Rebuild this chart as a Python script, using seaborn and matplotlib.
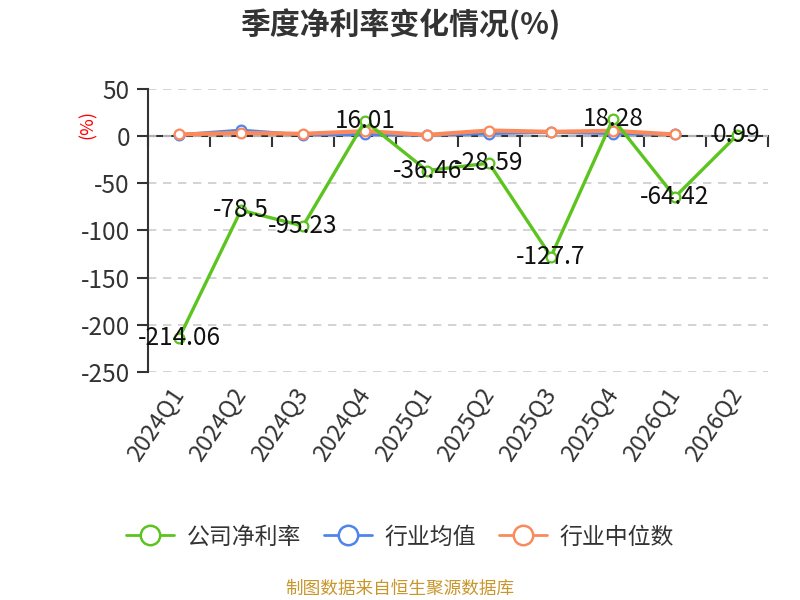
import numpy as np
import pandas as pd
import matplotlib
matplotlib.use("Agg")
import matplotlib.pyplot as plt
from matplotlib.lines import Line2D
import seaborn as sns

# ---- data ----
quarters = ["2024Q1", "2024Q2", "2024Q3", "2024Q4", "2025Q1",
            "2025Q2", "2025Q3", "2025Q4", "2026Q1", "2026Q2"]
company = [-214.06, -78.5, -95.23, 16.01, -36.46, -28.59, -127.7, 18.28, -64.42, 0.99]
industry_avg = [1.5, 6.4, 1.5, 1.8, 1.0, 2.8, 4.0, 2.8, 1.8, np.nan]
industry_median = [1.8, 3.5, 2.5, 5.3, 1.4, 6.0, 4.6, 5.7, 1.8, np.nan]
series_names = ["公司净利率", "行业均值", "行业中位数"]
colors = ["#5cc41e", "#4f84ec", "#fa8a5c"]
yticks = [50, 0, -50, -100, -150, -200, -250]

sns.set_theme(style="white")
plt.rcParams["font.family"] = ["Noto Sans CJK SC", "DejaVu Sans"]
plt.rcParams["axes.unicode_minus"] = False

fig = plt.figure(figsize=(8, 6), dpi=100)
ax = fig.add_axes([148 / 800, 1 - 372 / 600, 620 / 800, 283 / 600])

x = np.arange(len(quarters))
df = pd.DataFrame({"x": x, "company": company, "avg": industry_avg, "median": industry_median})

# draw order: avg, median, company on top
for col, color, lw, z in [("avg", colors[1], 2.2, 3), ("median", colors[2], 3.0, 4), ("company", colors[0], 2.4, 5)]:
    sub = df[["x", col]].dropna()
    sns.lineplot(data=sub, x="x", y=col, ax=ax, color=color, lw=lw, marker="o",
                 markersize=7, markerfacecolor="white", markeredgecolor=color,
                 markeredgewidth=1.6, zorder=z, legend=False)

for xi, v in zip(x, company):
    ax.text(xi, v, f"{v:g}", ha="center", va="center", fontsize=17.5,
            color="#111111", zorder=10)

ax.set_xlim(-0.5, len(quarters) - 0.5)
ax.set_ylim(-250, 50)
ax.set_yticks(yticks)
ax.set_yticklabels([str(t) for t in yticks])
ax.set_xticks(x)
ax.set_xticklabels(quarters, rotation=56, ha="right", va="center", rotation_mode="anchor")
ax.tick_params(axis="x", length=0, pad=13, labelsize=17, labelcolor="#333333")
ax.tick_params(axis="y", length=8, width=1.5, color="#333333", pad=5,
               labelsize=17.5, labelcolor="#333333", left=True)
ax.set_xlabel("")
ax.set_ylabel("")

for s in ["top", "right", "bottom"]:
    ax.spines[s].set_visible(False)
ax.spines["left"].set_color("#333333")
ax.spines["left"].set_linewidth(1.5)

ax.yaxis.grid(True, linestyle=(0, (5, 4)), color="#cccccc", lw=1.2)
ax.xaxis.grid(False)
ax.set_axisbelow(True)

# zero axis line with boundary ticks
sec = ax.secondary_xaxis(250 / 300)
sec.set_alignment("bottom")
sec.set_xticks(np.arange(-0.5, len(quarters), 1))
sec.set_xticklabels([])
sec.tick_params(axis="x", direction="out", length=8, width=1.5, color="#333333")
sec.spines["bottom"].set_color("#333333")
sec.spines["bottom"].set_linewidth(1.5)

ax.text(-0.097, 0.873, "(%)", transform=ax.transAxes, rotation=90, color="red",
        fontsize=13, ha="center", va="center")

fig.text(0.5, 1 - 24 / 600, "季度净利率变化情况(%)", ha="center", va="center",
         fontsize=21.5, fontweight="bold", color="#333333")

handles = [Line2D([], [], color=c, lw=2, marker="o", markersize=14,
                  markerfacecolor="white", markeredgecolor=c, markeredgewidth=1.8)
           for c in colors]
fig.legend(handles, series_names, loc="center", bbox_to_anchor=(0.5, 1 - 537 / 600),
           ncol=3, frameon=False, fontsize=16.5, labelcolor="#333333",
           handlelength=2.1, handletextpad=0.55, columnspacing=1.0)

fig.text(0.5, 1 - 589 / 600, "制图数据来自恒生聚源数据库", ha="center", va="center",
         fontsize=12.7, color="#c8962a")

fig.savefig("out.png", dpi=100)
